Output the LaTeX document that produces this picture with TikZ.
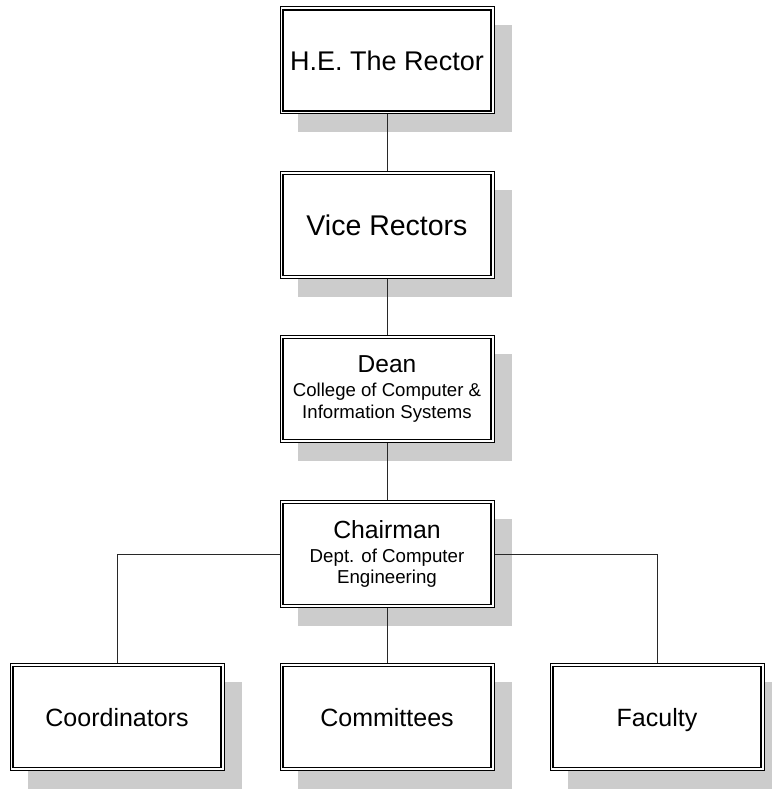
\documentclass[tikz,border=0pt]{standalone}
\usepackage{fontspec}
\setmainfont{Liberation Sans}
\usetikzlibrary{shadows}
\definecolor{shadowgray}{RGB}{204,204,204}
\definecolor{linkgray}{RGB}{40,40,40}
\tikzset{
  orgbox/.style={
    draw=black, line width=1pt, fill=white,
    minimum width=214pt, minimum height=107pt, inner sep=0pt,
    align=center,
    drop shadow={shadow xshift=18pt, shadow yshift=-18pt,
                 fill=shadowgray, opacity=1, draw=none},
    path picture={
      \draw[line width=1.5pt]
        ([shift={(3pt,-3pt)}]path picture bounding box.north west) rectangle
        ([shift={(-3pt,3pt)}]path picture bounding box.south east);
    }
  },
  % one-line labels are centred on their capitals, ignoring descenders
  oneline/.style={orgbox, text depth=0pt},
  link/.style={draw=linkgray, line width=0.9pt}
}
\newcommand{\fs}[2]{\fontsize{#1}{#2}\selectfont}
\begin{document}
\begin{tikzpicture}[x=1pt, y=-1pt]
  \useasboundingbox (0,0) rectangle (771,789);

  % hierarchy boxes
  \node[oneline, font=\fs{27}{30}] (rector) at (387,60.5) {H.E. The Rector};
  \node[oneline, font=\fs{28.5}{31}] (vice) at (387,225) {Vice Rectors};
  \node[orgbox, font=\fs{18.6}{22}] (dean) at (387,389)
    {{\fs{24.5}{26}Dean}\\[2pt]College of Computer \&\\Information Systems};
  \node[orgbox, font=\fs{18.7}{21}] (chair) at (387,554)
    {{\fs{24.8}{26}Chairman}\\[3pt]Dept. of Computer\\Engineering};
  \node[oneline, font=\fs{25}{28}] (coord) at (117,717) {Coordinators};
  \node[oneline, font=\fs{25}{28}] (comm) at (387,717) {Committees};
  \node[oneline, font=\fs{25}{28}] (fac) at (657,717) {Faculty};

  % reporting lines
  \draw[link] (rector) -- (vice);
  \draw[link] (vice) -- (dean);
  \draw[link] (dean) -- (chair);
  \draw[link] (chair) -- (comm);
  \draw[link] (chair.west) -| (coord.north);
  \draw[link] (chair.east) -| (fac.north);
\end{tikzpicture}
\end{document}
